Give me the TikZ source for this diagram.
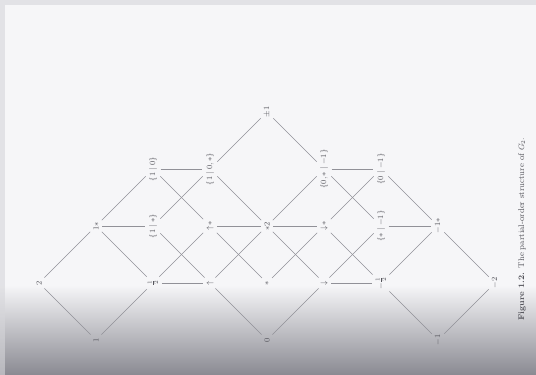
\documentclass[tikz,border=0pt]{standalone}
\usepackage{amsmath}
\usepackage{amssymb}
\usepackage{xcolor}
\usepackage{tikz}
\usetikzlibrary{positioning, calc}
\definecolor{paper}{RGB}{246, 246, 248}
\definecolor{rim}{RGB}{214, 214, 218}
\definecolor{shadow}{RGB}{138, 138, 146}
\definecolor{inkgray}{RGB}{85, 85, 92}
\definecolor{linegray}{RGB}{145, 145, 152}

\begin{document}
\begin{tikzpicture}[x=1pt, y=-1pt,
    lab/.style={font=\footnotesize, text=inkgray, rotate=90, inner sep=2pt},
    ln/.style={draw=linegray, line width=0.55pt, shorten <=1.5pt, shorten >=1.5pt},
    captext/.style={font=\fontsize{8.3}{10}\selectfont, text=inkgray, rotate=90}
]

% Page and shadow
\fill[paper] (0,0) rectangle (536,375);
\shade[top color=paper, bottom color=shadow, middle color=paper!50!shadow] (0,285) rectangle (536,375);
\fill[rim, opacity=0.6] (0,0) rectangle (536,5);
\fill[rim, opacity=0.6] (0,5) rectangle (5,375);

% Levels 2 .. 1/2
\node[lab] (two)     at ( 39,283) {$2$};
\node[lab] (onestar) at ( 96,226) {$1{\ast}$};
\node[lab] (one)     at ( 96,340) {$1$};
\node[lab] (ozero)   at (153,169) {$\{1\mid 0\}$};
\node[lab] (ostar)   at (153,226) {$\{1\mid \ast\}$};
\node[lab] (half)    at (153,283) {$\frac12$};

% Middle levels
\node[lab] (ozstar)   at (210,169) {$\{1\mid 0,\ast\}$};
\node[lab] (upstar)   at (210,226) {$\uparrow\!\ast$};
\node[lab] (up)       at (210,283) {$\uparrow$};
\node[lab] (pmone)    at (267,112) {$\pm1$};
\node[lab] (startwo)  at (267,226) {$\ast2$};
\node[lab] (star)     at (267,283) {$\ast$};
\node[lab] (zero)     at (267,340) {$0$};
\node[lab] (zsneg)    at (324,169) {$\{0,\ast\mid -1\}$};
\node[lab] (downstar) at (324,226) {$\downarrow\!\ast$};
\node[lab] (down)     at (324,283) {$\downarrow$};

% Levels -1/2 .. -2
\node[lab] (zneg)  at (381,169) {$\{0\mid -1\}$};
\node[lab] (sneg)  at (381,226) {$\{\ast\mid -1\}$};
\node[lab] (mhalf) at (381,283) {$-\frac12$};
\node[lab] (mstar) at (438,226) {$-1{\ast}$};
\node[lab] (mone)  at (438,340) {$-1$};
\node[lab] (mtwo)  at (495,283) {$-2$};

% Caption
\node[captext] (caption) at (522,229) {\textbf{Figure 1.2.}\enspace The partial-order structure of $G_2$.};

% 2 -> 1, 1*
\draw[ln] (two) -- (onestar);
\draw[ln] (two) -- (one);

% 1, 1* -> next level
\draw[ln] (onestar) -- (ozero);
\draw[ln] (onestar) -- (ostar);
\draw[ln] (onestar) -- (half);
\draw[ln] (one) -- (half);

% {1|0}, {1|*}, 1/2 -> next level
\draw[ln] (ozero) -- (ozstar);
\draw[ln] (ozero) -- (upstar);
\draw[ln] (ostar) -- (ozstar);
\draw[ln] (ostar) -- (up);
\draw[ln] (half) -- (upstar);
\draw[ln] (half) -- (up);

% {1|0,*}, up*, up -> middle
\draw[ln] (ozstar) -- (pmone);
\draw[ln] (ozstar) -- (startwo);
\draw[ln] (upstar) -- (startwo);
\draw[ln] (upstar) -- (star);
\draw[ln] (up) -- (startwo);
\draw[ln] (up) -- (zero);

% middle -> {0,*|-1}, down*, down
\draw[ln] (pmone) -- (zsneg);
\draw[ln] (startwo) -- (zsneg);
\draw[ln] (startwo) -- (downstar);
\draw[ln] (startwo) -- (down);
\draw[ln] (star) -- (downstar);
\draw[ln] (zero) -- (down);

% -> {0|-1}, {*|-1}, -1/2
\draw[ln] (zsneg) -- (zneg);
\draw[ln] (zsneg) -- (sneg);
\draw[ln] (downstar) -- (zneg);
\draw[ln] (downstar) -- (mhalf);
\draw[ln] (down) -- (sneg);
\draw[ln] (down) -- (mhalf);

% -> -1*, -1, -2
\draw[ln] (zneg) -- (mstar);
\draw[ln] (sneg) -- (mstar);
\draw[ln] (mhalf) -- (mstar);
\draw[ln] (mhalf) -- (mone);
\draw[ln] (mstar) -- (mtwo);
\draw[ln] (mone) -- (mtwo);

\end{tikzpicture}
\end{document}
